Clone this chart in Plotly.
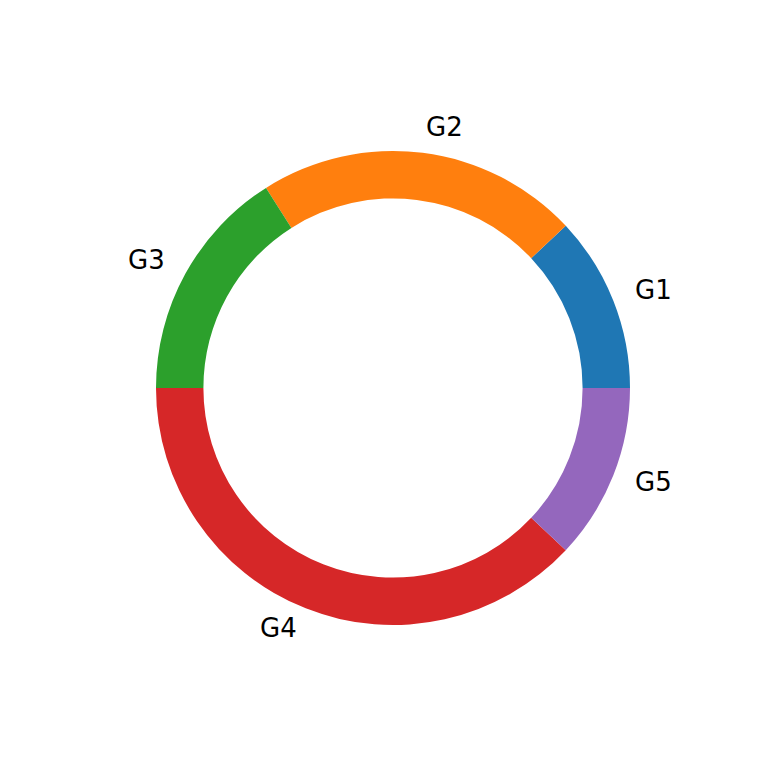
import math
import plotly.graph_objects as go

labels = ["G1", "G2", "G3", "G4", "G5"]
values = [12, 22, 16, 38, 12]
colors = ["#1f77b4", "#ff7f0e", "#2ca02c", "#d62728", "#9467bd"]

W = H = 768
OFF = 8  # page body margin
cx, cy, R = 393 - OFF, 388 - OFF, 237  # center (px from figure top-left) and outer radius
dom_x = [(cx - R) / W, (cx + R) / W]
dom_y = [(H - cy - R) / H, (H - cy + R) / H]

total = sum(values)
# plotly's counterclockwise pies put the END of the first slice at `rotation`,
# so shift so that the first slice starts at 3 o'clock
rot = 90 - 360 * values[0] / total

fig = go.Figure(go.Pie(
    labels=labels, values=values, sort=False, direction="counterclockwise",
    rotation=rot, hole=0.8, textinfo="none", hoverinfo="label+value",
    marker=dict(colors=colors, line=dict(width=0)),
    domain=dict(x=dom_x, y=dom_y), showlegend=False,
))

# labels at 1.1 radius, placed at each wedge's mid-angle (as matplotlib does)
cum = 0
annotations = []
for lab, v in zip(labels, values):
    mid = (cum + v / 2) / total * 2 * math.pi
    cum += v
    px = cx + 1.1 * R * math.cos(mid)
    py = cy - 1.1 * R * math.sin(mid)
    right = math.cos(mid) >= 0
    annotations.append(dict(
        x=px / W, y=(H - py) / H, xref="paper", yref="paper", text=lab,
        showarrow=False, xanchor="left" if right else "right",
        yanchor="middle", borderpad=0, xshift=-1 if right else 1, yshift=2,
        font=dict(size=26, family="DejaVu Sans", color="black"),
    ))

fig.update_layout(
    width=W, height=H, margin=dict(l=0, r=0, t=0, b=0),
    paper_bgcolor="white", plot_bgcolor="white", annotations=annotations,
)
fig.write_html("out.html")
